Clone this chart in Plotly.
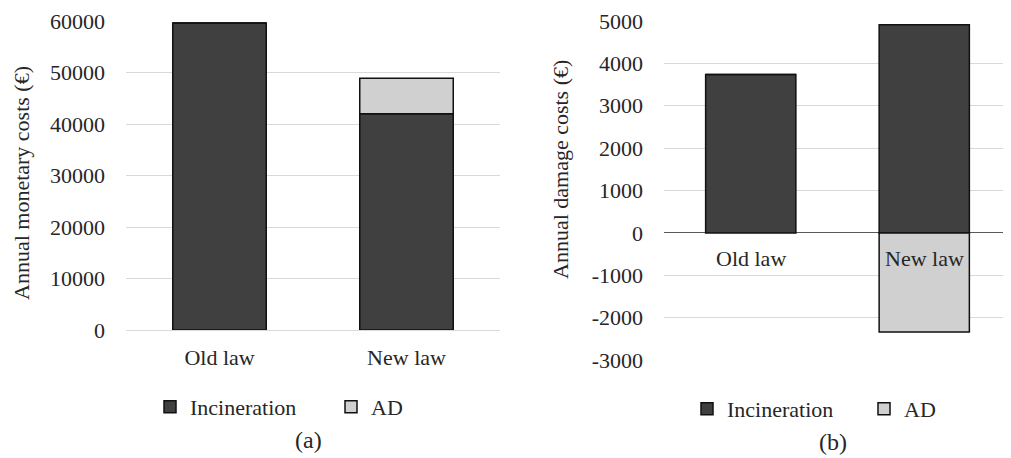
import plotly.graph_objects as go

categories = ["Old law", "New law"]
# (a) Annual monetary costs (€)
monetary_incineration = [59600, 42000]
monetary_ad = [0, 6900]
# (b) Annual damage costs (€)
damage_incineration = [3740, 4910]
damage_ad = [0, -2340]

y_ticks_a = [0, 10000, 20000, 30000, 40000, 50000, 60000]
y_ticks_b = [-3000, -2000, -1000, 0, 1000, 2000, 3000, 4000, 5000]

DARK = "#404040"
LIGHT = "#d0d0d0"
FONT = "Liberation Serif"
TXT = "#262626"
WIN_W, WIN_H = 1011, 458
OFF = 8  # page body margin
W, H = WIN_W - OFF, WIN_H - OFF


def px(x):
    return (x - OFF) / W


def py(y):
    return 1 - (y - OFF) / H


fig = go.Figure()

line = dict(color="#111111", width=1.5)
fig.add_trace(go.Bar(x=categories, y=monetary_incineration, name="Incineration",
                     marker=dict(color=DARK, line=line), width=0.5,
                     xaxis="x", yaxis="y", legend="legend"))
fig.add_trace(go.Bar(x=categories, y=monetary_ad, name="AD",
                     marker=dict(color=LIGHT, line=line), width=0.5,
                     xaxis="x", yaxis="y", legend="legend"))
fig.add_trace(go.Bar(x=categories, y=damage_incineration, name="Incineration",
                     marker=dict(color=DARK, line=line), width=0.52,
                     xaxis="x2", yaxis="y2", legend="legend2"))
fig.add_trace(go.Bar(x=categories, y=damage_ad, name="AD",
                     marker=dict(color=LIGHT, line=line), width=0.52,
                     xaxis="x2", yaxis="y2", legend="legend2"))

lfont = dict(family=FONT, size=22, color=TXT)

fig.update_layout(
    width=W, height=H,
    margin=dict(l=0, r=0, t=0, b=0, autoexpand=False),
    paper_bgcolor="white", plot_bgcolor="white",
    barmode="relative",
    font=dict(family=FONT, size=21, color=TXT),
    xaxis=dict(domain=[px(126), px(500)], anchor="y", showgrid=False, showline=False,
               ticks="", tickfont=dict(family=FONT, size=22), ticklabelstandoff=12,
               automargin=False),
    yaxis=dict(domain=[py(330), py(21)], anchor="x", range=[0, 60000],
               tickvals=y_ticks_a, ticktext=[str(v) for v in y_ticks_a],
               showgrid=True, gridcolor="#d9d9d9", gridwidth=1.3,
               zeroline=True, zerolinecolor="#d9d9d9", zerolinewidth=1.3,
               showline=False, ticks="", ticklabelstandoff=20,
               tickfont=dict(family=FONT, size=22), automargin=False),
    xaxis2=dict(domain=[px(664), 1.0], anchor="y2", showgrid=False, showline=False,
                ticks="", showticklabels=False, automargin=False),
    yaxis2=dict(domain=[py(360), py(21)], anchor="x2", range=[-3000, 5000],
                tickvals=y_ticks_b, ticktext=[str(v) for v in y_ticks_b],
                showgrid=True, gridcolor="#d9d9d9", gridwidth=1.3,
                zeroline=True, zerolinecolor="#595959", zerolinewidth=1.3,
                showline=False, ticks="", ticklabelstandoff=20,
                tickfont=dict(family=FONT, size=22), automargin=False),
    legend=dict(orientation="h", x=px(150), y=py(407), xanchor="left", yanchor="middle",
                font=lfont, entrywidth=136, bgcolor="rgba(0,0,0,0)",
                itemwidth=30, traceorder="normal"),
    legend2=dict(orientation="h", x=px(687), y=py(409), xanchor="left", yanchor="middle",
                 font=lfont, entrywidth=132, bgcolor="rgba(0,0,0,0)",
                 itemwidth=30, traceorder="normal"),
    annotations=[
        dict(text="Annual monetary costs (€)", textangle=-90, x=px(22), y=py(183),
             xanchor="center", yanchor="middle",
             xref="paper", yref="paper", showarrow=False, font=dict(size=22)),
        dict(text="Annual damage costs (€)", textangle=-90, x=px(560), y=py(170),
             xanchor="center", yanchor="middle",
             xref="paper", yref="paper", showarrow=False, font=dict(size=22)),
        dict(text="(a)", x=px(308), y=py(440), xanchor="center", yanchor="middle",
             xref="paper", yref="paper", showarrow=False, font=dict(size=24)),
        dict(text="(b)", x=px(833), y=py(442), xanchor="center", yanchor="middle",
             xref="paper", yref="paper", showarrow=False, font=dict(size=24)),
    ] + [
        dict(text=c, x=c, y=0, xref="x2", yref="y2", yanchor="top", yshift=-11,
             showarrow=False, font=dict(size=22))
        for c in categories
    ],
)

fig.write_html("out.html")
